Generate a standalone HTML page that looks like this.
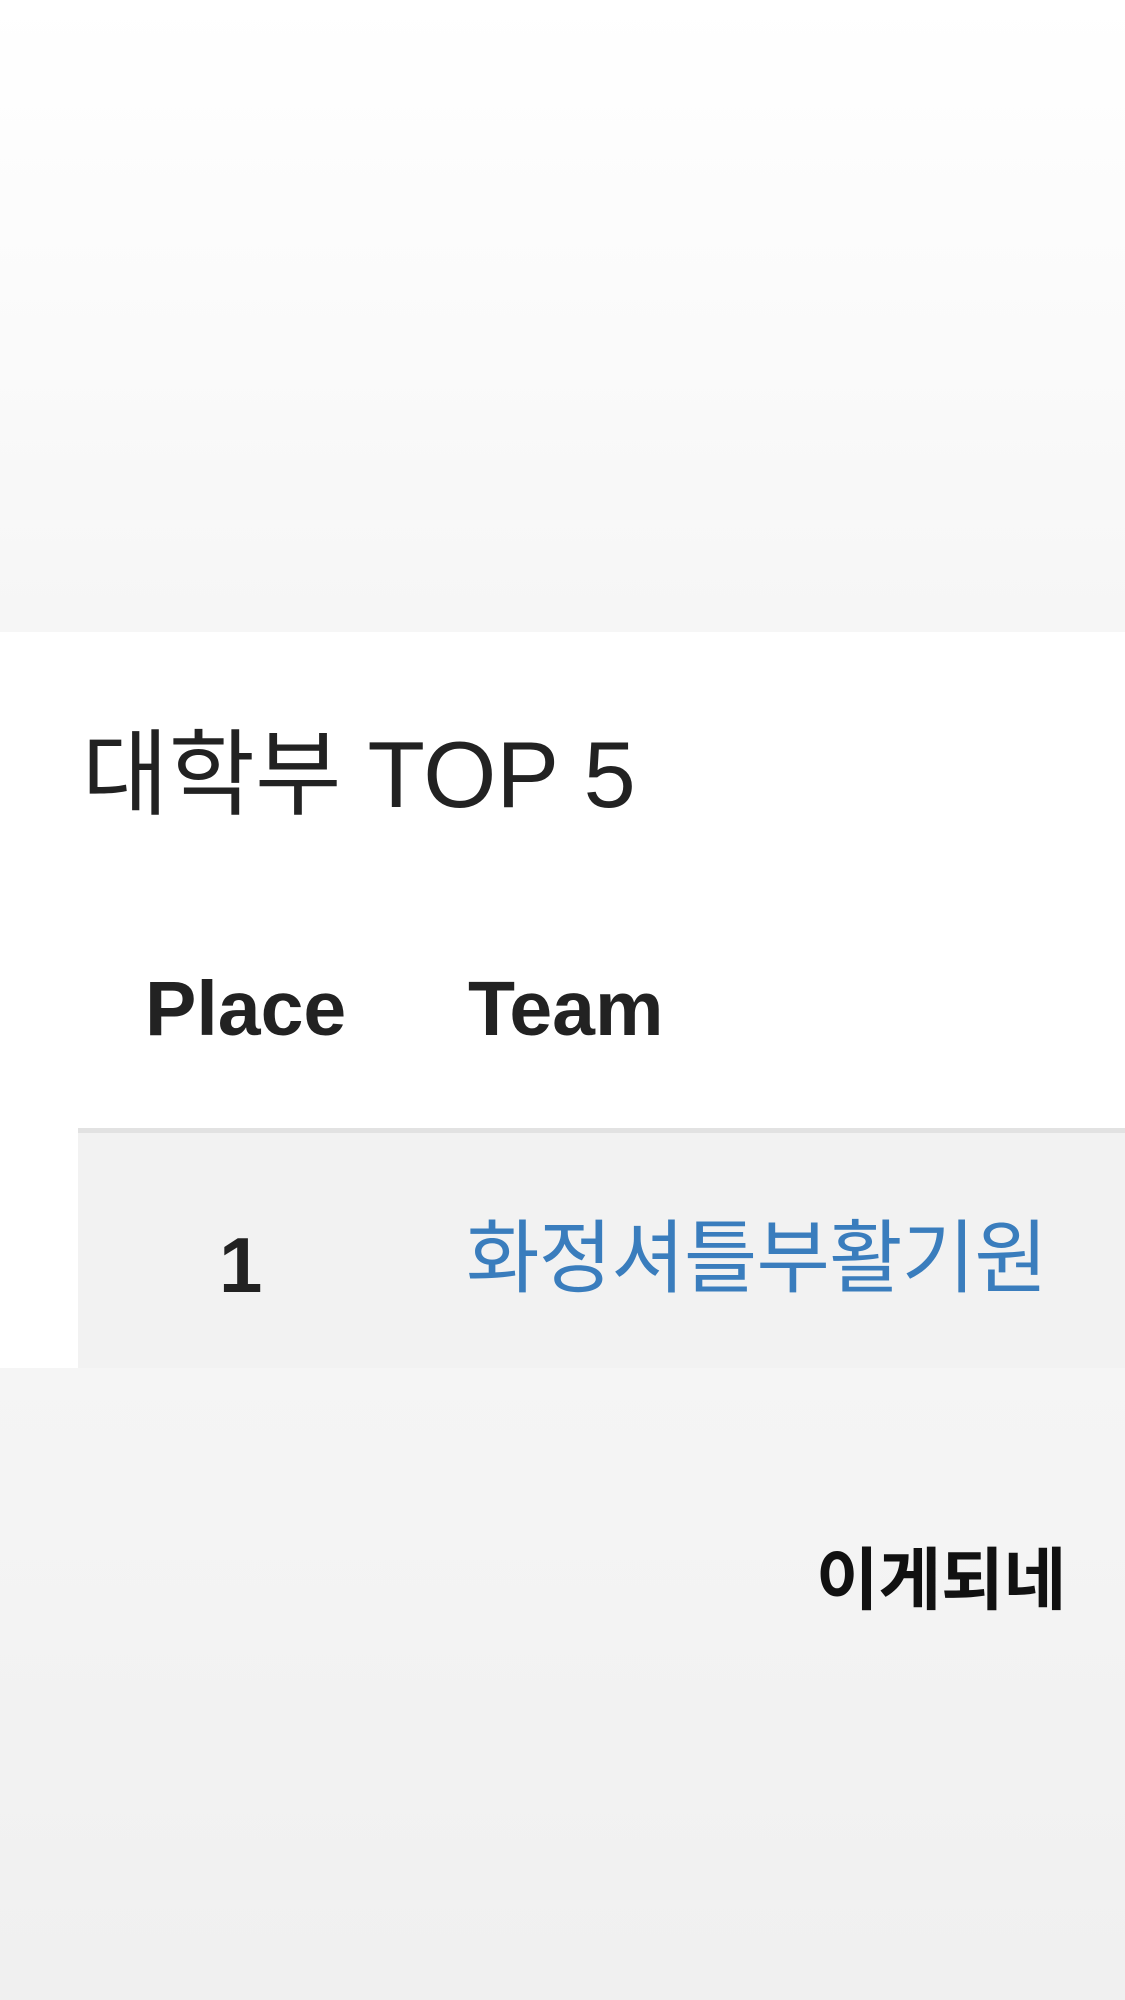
<!DOCTYPE html>
<html><head><meta charset="utf-8">
<style>
html,body{margin:0;padding:0;}
body{width:1125px;height:2000px;position:relative;overflow:hidden;background:#f3f3f3;font-family:"Liberation Sans","Noto Sans CJK KR",sans-serif;}
.top{position:absolute;left:0;top:0;width:1125px;height:632px;background:linear-gradient(#ffffff,#f6f6f6);}
.panel{position:absolute;left:0;top:632px;width:1125px;height:736px;background:#fff;}
.bottom{position:absolute;left:0;top:1368px;width:1125px;height:632px;background:linear-gradient(#f5f5f5,#f0f0f0);}
.t{position:absolute;white-space:nowrap;line-height:1;}
</style></head>
<body>
<div class="top"></div>
<div class="panel">
  <div class="t" style="left:82px;top:96px;font-size:94px;color:#222;font-family:'Liberation Sans','Noto Sans CJK KR',sans-serif;">대학부 TOP 5</div>
  <div class="t" style="left:145px;top:339px;font-size:77px;font-weight:bold;color:#222;">Place</div>
  <div class="t" style="left:468px;top:339px;font-size:77px;font-weight:bold;color:#222;">Team</div>
  <div style="position:absolute;left:78px;top:496px;width:1047px;height:5px;background:#e2e2e2;"></div>
  <div style="position:absolute;left:78px;top:501px;width:1047px;height:235px;background:#f2f2f2;">
    <div class="t" style="left:141px;top:93px;font-size:78px;font-weight:bold;color:#222;">1</div>
    <div class="t" style="left:388px;top:79px;font-size:80px;color:#3a7dbd;font-family:'Noto Sans CJK KR',sans-serif;letter-spacing:-1px;">화정셔틀부활기원</div>
  </div>
</div>
<div class="bottom">
  <div class="t" style="left:816px;top:173px;font-size:68px;font-weight:bold;color:#111;font-family:'Noto Sans CJK KR',sans-serif;letter-spacing:0px;">이게되네</div>
</div>
</body></html>
